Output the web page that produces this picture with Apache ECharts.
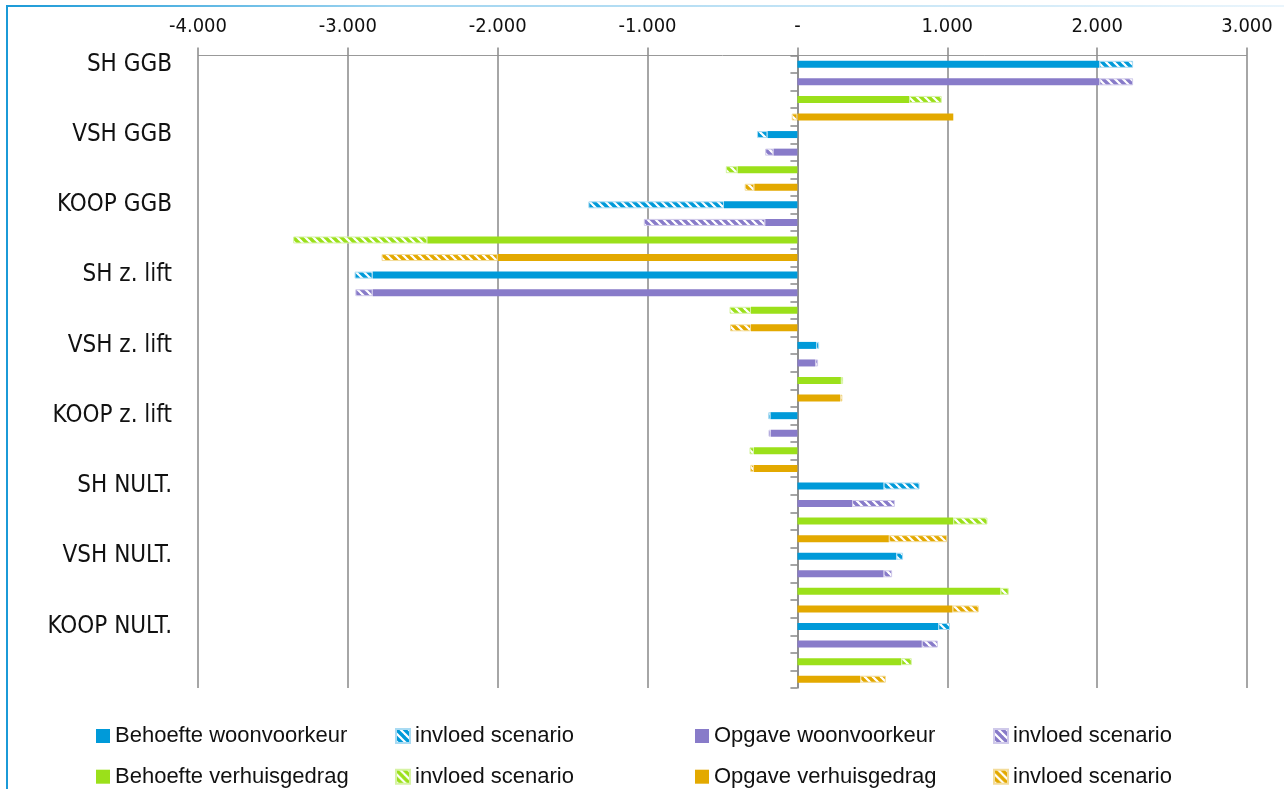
<!DOCTYPE html>
<html>
<head>
<meta charset="utf-8">
<script src="https://cdn.jsdelivr.net/npm/echarts@6/dist/echarts.min.js"></script>
<style>html,body{margin:0;padding:0;background:#fff}#c{width:1284px;height:789px}</style>
</head>
<body>
<div id="c"></div>
<script>
// ---- data ----
const groups = ['SH GGB','VSH GGB','KOOP GGB','SH z. lift','VSH z. lift','KOOP z. lift','SH NULT.','VSH NULT.','KOOP NULT.'];
const xTickLabels = ['-4.000','-3.000','-2.000','-1.000','-','1.000','2.000','3.000'];
const behoefteWoon     = [2015, -200, -490, -2835, 125, -180, 575, 660, 940];
const behoefteWoonScen = [225, -70, -905, -120, 20, -15, 240, 45, 78];
const opgaveWoon       = [2015, -160, -215, -2835, 120, -178, 365, 575, 830];
const opgaveWoonScen   = [225, -55, -810, -115, 18, -15, 285, 57, 107];
const behoefteVerh     = [745, -400, -2470, -310, 290, -290, 1040, 1355, 693];
const behoefteVerhScen = [218, -78, -895, -143, 15, -30, 228, 55, 70];
const opgaveVerh       = [1040, -288, -2000, -310, 285, -290, 610, 1035, 420];
const opgaveVerhScen   = [-38, -64, -775, -140, 15, -25, 390, 175, 170];

// ---- build ----
const FONT_N = '"Liberation Sans Narrow", "DejaVu Sans Condensed", sans-serif';
const FONT_L = '"Liberation Sans", Arial, sans-serif';
const cats = [];
groups.forEach(g => { for (let k = 0; k < 4; k++) cats.push(k === 0 ? g : g + '#' + k); });

function hatch(color) {
  const s = 8;
  const c = document.createElement('canvas');
  c.width = s; c.height = s;
  const ctx = c.getContext('2d');
  ctx.fillStyle = '#ffffff';
  ctx.fillRect(0, 0, s, s);
  ctx.strokeStyle = color;
  ctx.lineWidth = 3.4;
  for (let k = -1; k <= 1; k++) {
    ctx.beginPath();
    ctx.moveTo(k * s - 1, -1);
    ctx.lineTo(k * s + s + 1, s + 1);
    ctx.stroke();
  }
  return { image: c, repeat: 'repeat' };
}

const types = [
  { name: 'Behoefte woonvoorkeur', color: '#009ad9', light: '#a9dbf3', solid: behoefteWoon, scen: behoefteWoonScen },
  { name: 'Opgave woonvoorkeur', color: '#887bc9', light: '#cfc9ea', solid: opgaveWoon, scen: opgaveWoonScen },
  { name: 'Behoefte verhuisgedrag', color: '#9be01a', light: '#d6f3a4', solid: behoefteVerh, scen: behoefteVerhScen },
  { name: 'Opgave verhuisgedrag', color: '#e3a900', light: '#f3dc9a', solid: opgaveVerh, scen: opgaveVerhScen }
];

function place(arr, slot) {
  const out = new Array(cats.length).fill('-');
  arr.forEach((v, g) => { out[g * 4 + slot] = v; });
  return out;
}

const series = [];
types.forEach((t, slot) => {
  series.push({
    name: t.name, type: 'bar', stack: 'all', barWidth: 7,
    itemStyle: { color: t.color },
    data: place(t.solid, slot)
  });
  series.push({
    name: 'invloed scenario (' + t.name + ')', type: 'bar', stack: 'all', barWidth: 7,
    itemStyle: { color: hatch(t.color), borderColor: t.light, borderWidth: 1 },
    data: place(t.scen, slot)
  });
});

const legendCommon = {
  orient: 'vertical', top: 725, itemWidth: 14, itemHeight: 14, itemGap: 18.7,
  icon: 'rect', selectedMode: false, padding: 0,
  textStyle: { fontSize: 22, fontFamily: FONT_L, color: '#111', lineHeight: 22 },
  formatter: n => n.indexOf('invloed') === 0 ? 'invloed scenario' : n
};

const chart = echarts.init(document.getElementById('c'));
chart.setOption({
  animation: false,
  backgroundColor: '#fff',
  grid: { left: 198, right: 37, top: 55.5, bottom: 101, containLabel: false },
  xAxis: {
    type: 'value', position: 'top', min: -4000, max: 3000, interval: 1000,
    axisLine: { show: true, onZero: false, lineStyle: { color: '#999', width: 1 } },
    axisTick: { show: true, length: 8, lineStyle: { color: '#888', width: 1.5 } },
    splitLine: { show: true, lineStyle: { color: '#888', width: 1.5 } },
    axisLabel: {
      formatter: v => xTickLabels[Math.round((v + 4000) / 1000)],
      fontSize: 20, fontFamily: FONT_N, color: '#111', margin: 19
    }
  },
  yAxis: [
    {
      type: 'category', data: cats, inverse: true, position: 'left',
      axisLine: { show: false, onZero: false }, axisTick: { show: false },
      axisLabel: {
        interval: 0, formatter: v => v.indexOf('#') >= 0 ? '' : v,
        fontSize: 24, fontFamily: FONT_N, color: '#111', margin: 26, padding: [4, 0, 0, 0]
      }
    },
    {
      type: 'category', data: cats, inverse: true, position: 'left',
      axisLine: { show: true, onZero: true, lineStyle: { color: '#888', width: 1.5 } },
      axisTick: { show: true, interval: 0, length: 7, lineStyle: { color: '#888', width: 1.5 } },
      axisLabel: { show: false }
    }
  ],
  legend: [
    Object.assign({}, legendCommon, { left: 96, data: ['Behoefte woonvoorkeur', 'Behoefte verhuisgedrag'] }),
    Object.assign({}, legendCommon, { left: 395, data: ['invloed scenario (Behoefte woonvoorkeur)', 'invloed scenario (Behoefte verhuisgedrag)'] }),
    Object.assign({}, legendCommon, { left: 695, data: ['Opgave woonvoorkeur', 'Opgave verhuisgedrag'] }),
    Object.assign({}, legendCommon, { left: 993, data: ['invloed scenario (Opgave woonvoorkeur)', 'invloed scenario (Opgave verhuisgedrag)'] })
  ],
  graphic: [
    { type: 'rect', shape: { x: 6, y: 5, width: 2, height: 784 }, style: { fill: '#1b9ad7' }, silent: true },
    { type: 'rect', shape: { x: 6, y: 5, width: 1278, height: 2 }, silent: true,
      style: { fill: new echarts.graphic.LinearGradient(0, 0, 1, 0, [
        { offset: 0, color: '#1b9ad7' }, { offset: 0.3, color: '#9fd4f0' }, { offset: 1, color: '#eaf5fc' }
      ]) } }
  ],
  series: series
});
</script>
</body>
</html>
